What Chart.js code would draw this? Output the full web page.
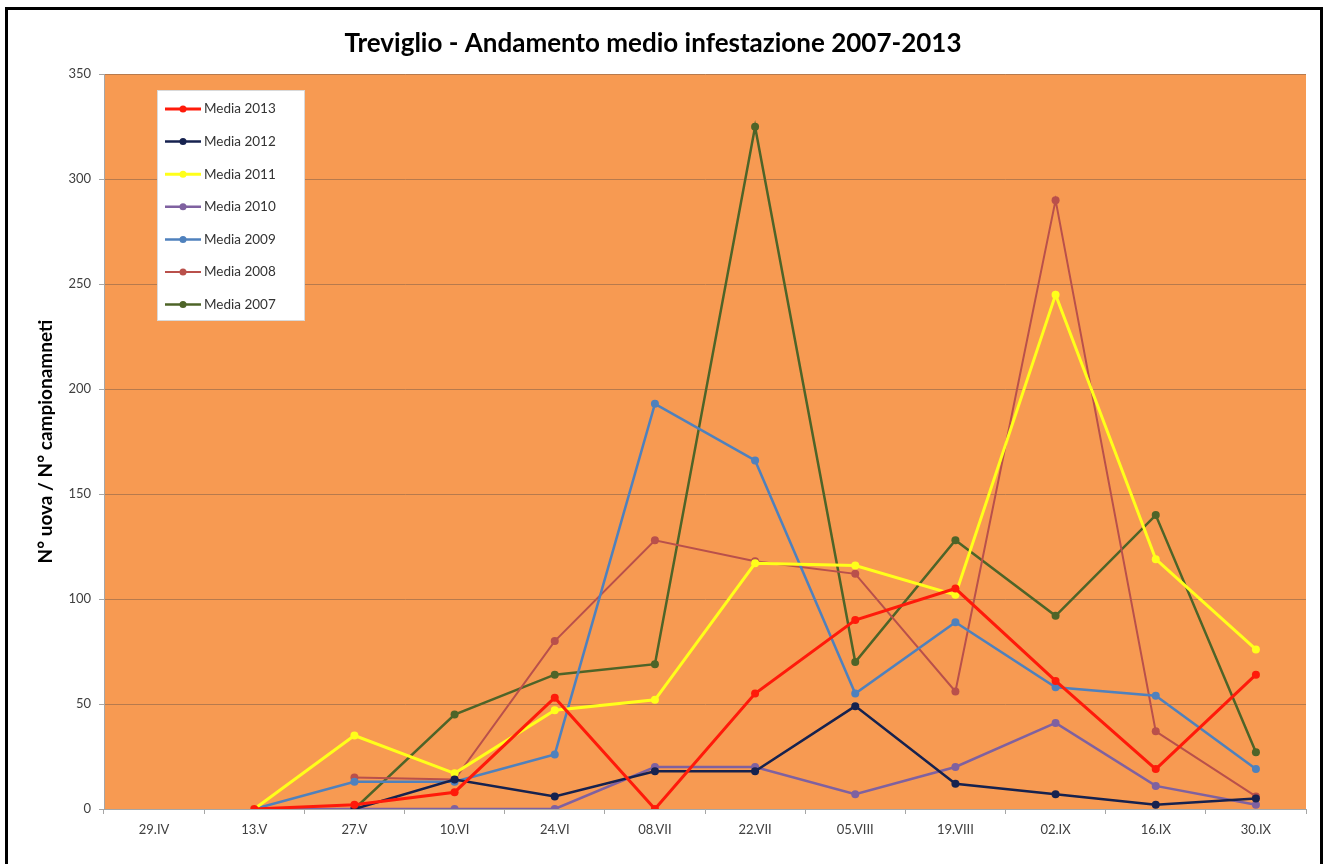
<!DOCTYPE html>
<html>
<head>
<meta charset="utf-8">
<script src="https://cdn.jsdelivr.net/npm/chart.js@4.4.1/dist/chart.umd.min.js"></script>
<style>
  html, body { margin: 0; padding: 0; background: #ffffff; }
  #wrap { position: relative; width: 1325px; height: 864px; overflow: hidden; }
  #frame { position: absolute; left: 5px; top: 7px; width: 1318px; height: 900px; border: 3px solid #000; box-sizing: border-box; pointer-events: none; }
  canvas { position: absolute; left: 0; top: 0; }
</style>
</head>
<body>
<div id="wrap">
  <canvas id="c" width="1325" height="864"></canvas>
  <div id="frame"></div>
</div>
<script>
const categories = ['29.IV','13.V','27.V','10.VI','24.VI','08.VII','22.VII','05.VIII','19.VIII','02.IX','16.IX','30.IX'];
const media2013 = [null, 0, 2, 8, 53, 0, 55, 90, 105, 61, 19, 64];
const media2012 = [null, null, 0, 14, 6, 18, 18, 49, 12, 7, 2, 5];
const media2011 = [null, 0, 35, 17, 47, 52, 117, 116, 102, 245, 119, 76];
const media2010 = [null, 0, 0, 0, 0, 20, 20, 7, 20, 41, 11, 2];
const media2009 = [null, 0, 13, 13, 26, 193, 166, 55, 89, 58, 54, 19];
const media2008 = [null, null, 15, 14, 80, 128, 118, 112, 56, 290, 37, 6];
const media2007 = [null, null, 0, 45, 64, 69, 325, 70, 128, 92, 140, 27];
const yTicks = [0, 50, 100, 150, 200, 250, 300, 350];

const seriesLabels = ['Media 2013','Media 2012','Media 2011','Media 2010','Media 2009','Media 2008','Media 2007'];
const seriesData = [media2013, media2012, media2011, media2010, media2009, media2008, media2007];
const seriesColors = ['#ff1a0a', '#16224f', '#ffff1a', '#7f61a0', '#4f81bd', '#b9504b', '#4e6428'];
const seriesWidths = [3, 2.5, 3, 2.5, 2.5, 2, 2.5];

const FONT = 'Lato, "Liberation Sans", sans-serif';

const datasets = seriesLabels.map((lab, i) => ({
  label: lab,
  data: seriesData[i],
  borderColor: seriesColors[i],
  backgroundColor: seriesColors[i],
  borderWidth: seriesWidths[i],
  pointRadius: 4,
  pointHoverRadius: 4,
  pointBorderWidth: 0,
  tension: 0,
  spanGaps: false,
  order: i
}));

const plotBg = {
  id: 'plotBg',
  beforeDraw(chart) {
    const {ctx, chartArea: a} = chart;
    ctx.save();
    ctx.fillStyle = '#f79a52';
    ctx.fillRect(a.left, a.top, a.right - a.left, a.bottom - a.top);
    ctx.restore();
  }
};

const boxLegend = {
  id: 'boxLegend',
  afterDraw(chart) {
    const ctx = chart.ctx;
    const x0 = 157, y0 = 90, w = 148, h = 231;
    ctx.save();
    ctx.fillStyle = '#ffffff';
    ctx.fillRect(x0, y0, w, h);
    ctx.strokeStyle = '#d9d9d9';
    ctx.lineWidth = 1;
    ctx.strokeRect(x0 + 0.5, y0 + 0.5, w - 1, h - 1);
    ctx.font = '13.5px ' + FONT;
    ctx.textBaseline = 'middle';
    ctx.textAlign = 'left';
    chart.data.datasets.forEach((ds, i) => {
      const y = y0 + 19 + i * 32.6;
      ctx.strokeStyle = ds.borderColor;
      ctx.lineWidth = ds.borderWidth;
      ctx.beginPath();
      ctx.moveTo(165, y);
      ctx.lineTo(201, y);
      ctx.stroke();
      ctx.fillStyle = ds.borderColor;
      ctx.beginPath();
      ctx.arc(183, y, 3.5, 0, Math.PI * 2);
      ctx.fill();
      ctx.fillStyle = '#333333';
      ctx.fillText(ds.label, 204, y);
    });
    ctx.restore();
  }
};

new Chart(document.getElementById('c'), {
  type: 'line',
  data: { labels: categories, datasets },
  options: {
    responsive: false,
    animation: false,
    events: [],
    layout: { padding: { left: 0, right: 19, top: 0, bottom: 0 } },
    plugins: {
      legend: { display: false },
      tooltip: { enabled: false },
      title: {
        display: true,
        text: 'Treviglio - Andamento medio infestazione 2007-2013',
        color: '#000000',
        font: { family: FONT, size: 26, weight: 'bold', lineHeight: 1.2 },
        padding: { top: 28, bottom: 15 }
      }
    },
    scales: {
      x: {
        offset: true,
        grid: { offset: true, drawOnChartArea: false, color: '#a6a6a6', tickLength: 5, tickColor: '#a6a6a6' },
        border: { color: '#a6a6a6', width: 1 },
        ticks: { color: '#404040', padding: 8, maxRotation: 0, autoSkip: false, font: { family: FONT, size: 13 } },
        afterFit(scale) { scale.height = 55; }
      },
      y: {
        min: 0,
        max: 350,
        afterBuildTicks(scale) { scale.ticks = yTicks.map(v => ({ value: v })); },
        grid: {
          color: (ctx) => ctx.tick && ctx.tick.value === 0 ? '#a6a6a6' : '#b77a4d',
          lineWidth: 1,
          tickLength: 5,
          tickColor: '#a6a6a6',
          drawTicks: true
        },
        border: { color: '#a6a6a6', width: 1 },
        ticks: { color: '#404040', padding: 8, font: { family: FONT, size: 13 } },
        title: {
          display: true,
          text: 'N° uova / N° campionamneti',
          color: '#000000',
          font: { family: FONT, size: 19, weight: 'bold', lineHeight: 1.2 },
          padding: { top: 34, bottom: 0 }
        },
        afterFit(scale) { scale.width = 104; }
      }
    }
  },
  plugins: [plotBg, boxLegend]
});
</script>
</body>
</html>
